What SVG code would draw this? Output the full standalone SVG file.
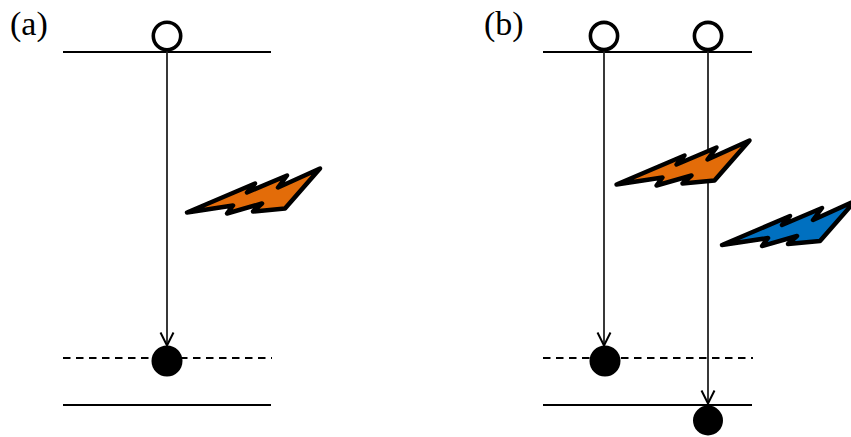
<svg xmlns="http://www.w3.org/2000/svg" width="851" height="437" viewBox="0 0 851 437">
<defs>
<marker id="arr" markerUnits="userSpaceOnUse" markerWidth="18" markerHeight="18" refX="14.5" refY="9" orient="auto"><path d="M1 2.5L14 9L1 15.5" fill="none" stroke="#000" stroke-width="2"/></marker>
<path id="bolt" d="M0 0L68 -29L60 -20L100 -37L91 -25L133 -44L98 -4L66 -1L75 -9L40 1L46 -7Z" stroke="#000" stroke-width="4.5" stroke-linejoin="round"/>
</defs>
<style>
.l{stroke:#000;stroke-width:2;fill:none}
.d{stroke:#000;stroke-width:2.2;fill:none;stroke-dasharray:7.5 5.5}
.c{stroke:#222;stroke-width:1.8;fill:none;marker-end:url(#arr)}
.o{fill:#fff;stroke:#000;stroke-width:3.6}
.t{font-family:"Liberation Serif",serif;font-size:34px;fill:#000}
</style>
<g id="levels">
<path class="l" d="M63 52H271"/><path class="d" d="M63 358H272"/><path class="l" d="M63 405H271"/>
<path class="l" d="M543 52H752"/><path class="d" d="M543 358H753"/><path class="l" d="M543 405H752"/>
</g>
<g id="connectors">
<path class="c" d="M167 50V346"/>
<path class="c" d="M604 50V346"/>
<path class="c" d="M708 50V404"/>
</g>
<g id="label-a"><text class="t" x="10" y="35">(a)</text></g>
<g id="label-b"><text class="t" x="484" y="35">(b)</text></g>
<g id="hole-a"><circle class="o" cx="167" cy="36" r="13.7"/></g>
<g id="hole-b1"><circle class="o" cx="604" cy="36" r="13.6"/></g>
<g id="hole-b2"><circle class="o" cx="708" cy="36" r="13.6"/></g>
<g id="electron-a"><circle cx="167" cy="361" r="15.5"/></g>
<g id="electron-b1"><circle cx="605" cy="361" r="15.5"/></g>
<g id="electron-b2"><circle cx="708" cy="420.5" r="15"/></g>
<g id="bolt-a"><use href="#bolt" x="187" y="212.5" fill="#e36c09"/></g>
<g id="bolt-b-orange"><use href="#bolt" x="616.5" y="184.5" fill="#e36c09"/></g>
<g id="bolt-b-blue"><use href="#bolt" x="722" y="245" fill="#0070c0"/></g>
</svg>
